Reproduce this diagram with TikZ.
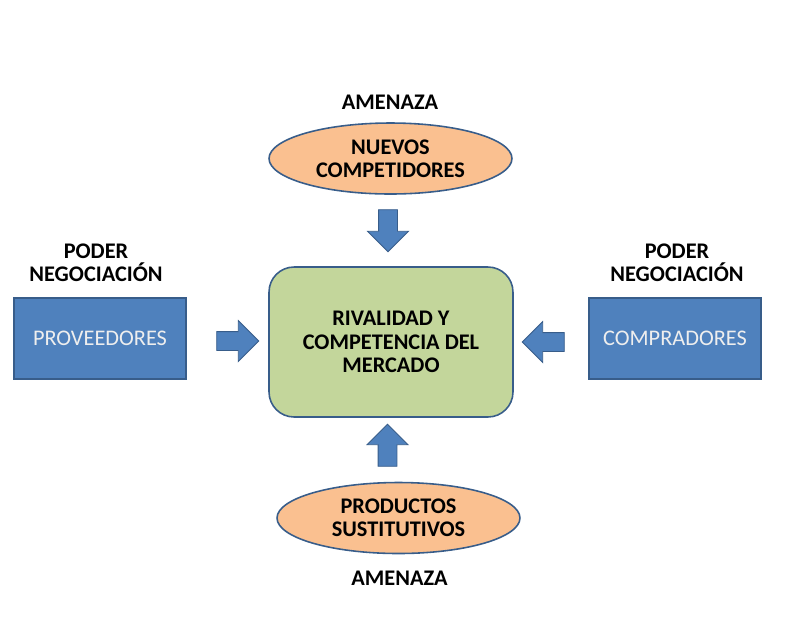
\documentclass[tikz,border=0pt]{standalone}
\usepackage{fontspec}
\setmainfont{Carlito}
\usetikzlibrary{shapes.geometric,shapes.arrows,positioning}
\definecolor{azul}{HTML}{4F81BD}
\definecolor{borde}{HTML}{385D8A}
\definecolor{melocoton}{HTML}{FAC090}
\definecolor{verde}{HTML}{C3D69B}
\definecolor{textoclaro}{HTML}{EEEEEE}
\begin{document}
\begin{tikzpicture}[x=0.02cm, y=-0.02cm,
  font=\fontsize{12.7}{13.2}\selectfont\bfseries,
  caja/.style={draw=borde, fill=azul, rectangle, line width=0.9pt, minimum width=3.44cm, minimum height=1.62cm, text=textoclaro, font=\fontsize{12.7}{13.2}\selectfont},
  elipse/.style={draw=borde, fill=melocoton, ellipse, line width=0.9pt, minimum width=4.86cm, minimum height=1.42cm, inner sep=1pt, align=center},
  centro/.style={draw=borde, fill=verde, rectangle, rounded corners=0.5cm, line width=0.9pt, minimum width=4.88cm, minimum height=3cm, align=center},
  etiqueta/.style={align=center},
  flecha/.style={single arrow, draw=borde, fill=azul, line width=0.5pt, minimum height=0.84cm, inner sep=0.18cm, single arrow head extend=0.22cm}
]
\useasboundingbox (0,0) rectangle (791,627);

% Knoten
\node[centro] (rival) at (391,342) {RIVALIDAD Y\\COMPETENCIA DEL\\MERCADO};
\node[elipse] (nuevos) at (390.5,158.5) {NUEVOS\\COMPETIDORES};
\node[elipse] (sustit) at (398.5,518) {PRODUCTOS\\SUSTITUTIVOS};
\node[caja] (prov) at (100,338.5) {PROVEEDORES};
\node[caja] (comp) at (675,338.5) {COMPRADORES};

% Etiquetas
\node[etiqueta] (amen1) at (390,102) {AMENAZA};
\node[etiqueta] (amen2) at (399.5,578) {AMENAZA};
\node[etiqueta] (poder1) at (96,263) {PODER\\NEGOCIACIÓN};
\node[etiqueta] (poder2) at (677,263) {PODER\\NEGOCIACIÓN};

% Flechas
\node[flecha, shape border rotate=270] (f1) at (388,226) {};
\node[flecha, shape border rotate=90] (f2) at (387.5,450) {};
\node[flecha, shape border rotate=0] (f3) at (233,341) {};
\node[flecha, shape border rotate=180] (f4) at (548,342) {};

\end{tikzpicture}
\end{document}
